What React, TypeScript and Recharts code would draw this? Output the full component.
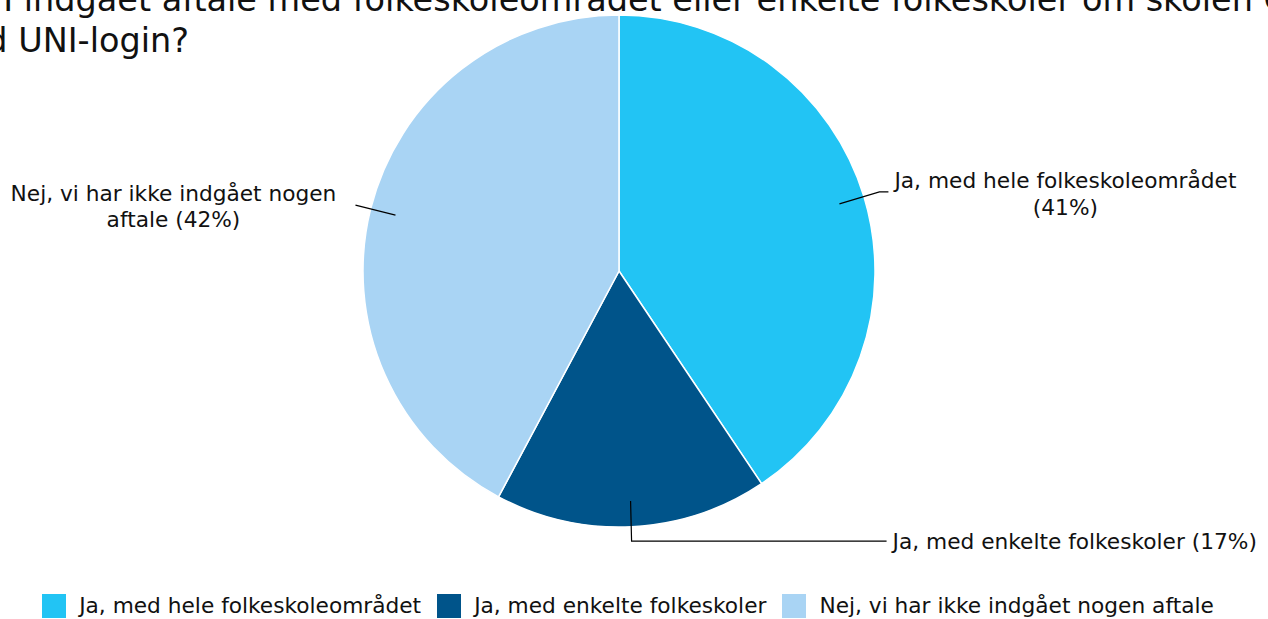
import React from "react";
import { PieChart, Pie, Cell, Legend } from "recharts";

const categories = [
  "Ja, med hele folkeskoleområdet",
  "Ja, med enkelte folkeskoler",
  "Nej, vi har ikke indgået nogen aftale",
];
const values = [40.6, 17.2, 42.2];
const colors = ["#22C4F4", "#00548A", "#A9D4F4"];
const titleLines = [
  "Har I indgået aftale med folkeskoleområdet eller enkelte folkeskoler om skolen G",
  "med UNI-login?",
];

const data = categories.map((name, i) => ({ name, value: values[i] }));
const total = values.reduce((a, b) => a + b, 0);

const FONT = "'DejaVu Sans', Verdana, sans-serif";
const W = 1268;
const H = 619;
const FS = 21.7;

function wrap(text: string, max: number): string[] {
  const words = text.split(" ");
  const lines: string[] = [];
  let cur = "";
  for (const w of words) {
    const t = cur ? cur + " " + w : w;
    if (t.length > max && cur) {
      lines.push(cur);
      cur = w;
    } else cur = t;
  }
  if (cur) lines.push(cur);
  return lines;
}

const RAD = Math.PI / 180;

const renderLabel = (props: any) => {
  const { cx, cy, midAngle, outerRadius, index, name, value } = props;
  const r = outerRadius * 0.9;
  const ax = cx + r * Math.cos(-midAngle * RAD);
  const ay = cy + r * Math.sin(-midAngle * RAD);
  const pct = Math.round((value / total) * 100);
  const full = `${name} (${pct}%)`;
  if (index === 0) {
    const ex = ax + 40;
    const ey = ay - 12;
    const lx = ex + 9;
    const lines = wrap(full, 30);
    const tx = lx + 177;
    return (
      <g>
        <polyline points={`${ax},${ay} ${ex},${ey} ${lx},${ey}`} fill="none" stroke="#000" strokeWidth={1.2} />
        {lines.map((l, k) => (
          <text key={k} x={tx} y={ey - 11 + k * 27} textAnchor="middle" dominantBaseline="central" fontSize={FS} fontFamily={FONT} fill="#111">
            {l}
          </text>
        ))}
      </g>
    );
  }
  if (index === 1) {
    const ex = ax + 1;
    const ey = ay + 40;
    const lx = ex + 255;
    return (
      <g>
        <polyline points={`${ax},${ay} ${ex},${ey} ${lx},${ey}`} fill="none" stroke="#000" strokeWidth={1.2} />
        <text x={lx + 6} y={ey} textAnchor="start" dominantBaseline="central" fontSize={FS} fontFamily={FONT} fill="#111">
          {full}
        </text>
      </g>
    );
  }
  const sx = ax - 40;
  const sy = ay - 10;
  const lines = wrap(full, 30);
  const tx = sx - 182;
  return (
    <g>
      <polyline points={`${ax},${ay} ${sx},${sy}`} fill="none" stroke="#000" strokeWidth={1.2} />
      {lines.map((l, k) => (
        <text key={k} x={tx} y={sy - 12 + k * 26} textAnchor="middle" dominantBaseline="central" fontSize={FS} fontFamily={FONT} fill="#111">
          {l}
        </text>
      ))}
    </g>
  );
};

const renderLegend = (props: any) => {
  const payload = [...(props.payload || [])].sort(
    (a: any, b: any) => categories.indexOf(a.value) - categories.indexOf(b.value)
  );
  return (
    <div style={{ display: "flex", justifyContent: "center", alignItems: "center", fontFamily: FONT, fontSize: FS, color: "#111" }}>
      {payload.map((p: any, i: number) => (
        <div key={i} style={{ display: "flex", alignItems: "center", marginRight: i < payload.length - 1 ? 16 : 0 }}>
          <span style={{ display: "inline-block", width: 24, height: 24, background: p.color, marginRight: 13 }} />
          <span>{p.value}</span>
        </div>
      ))}
    </div>
  );
};

export default function App() {
  return (
    <div style={{ position: "absolute", left: 0, top: 0, width: W, height: H, background: "#fff", overflow: "hidden" }}>
      <PieChart width={W} height={H} margin={{ top: 0, right: 0, bottom: 0, left: 0 }}>
        <text x={-67} y={11} fontSize={33.5} fontFamily={FONT} fill="#111">
          {titleLines[0]}
        </text>
        <text x={-67} y={52} fontSize={33.5} fontFamily={FONT} fill="#111">
          {titleLines[1]}
        </text>
        <Pie
          data={data}
          dataKey="value"
          nameKey="name"
          cx={619}
          cy={271}
          outerRadius={256}
          startAngle={90}
          endAngle={-270}
          stroke="#fff"
          strokeWidth={1.5}
          label={renderLabel}
          labelLine={false}
          isAnimationActive={false}
        >
          {data.map((d, i) => (
            <Cell key={i} fill={colors[i]} />
          ))}
        </Pie>
        <Legend content={renderLegend} wrapperStyle={{ top: 593, left: -6, width: W }} />
      </PieChart>
    </div>
  );
}
